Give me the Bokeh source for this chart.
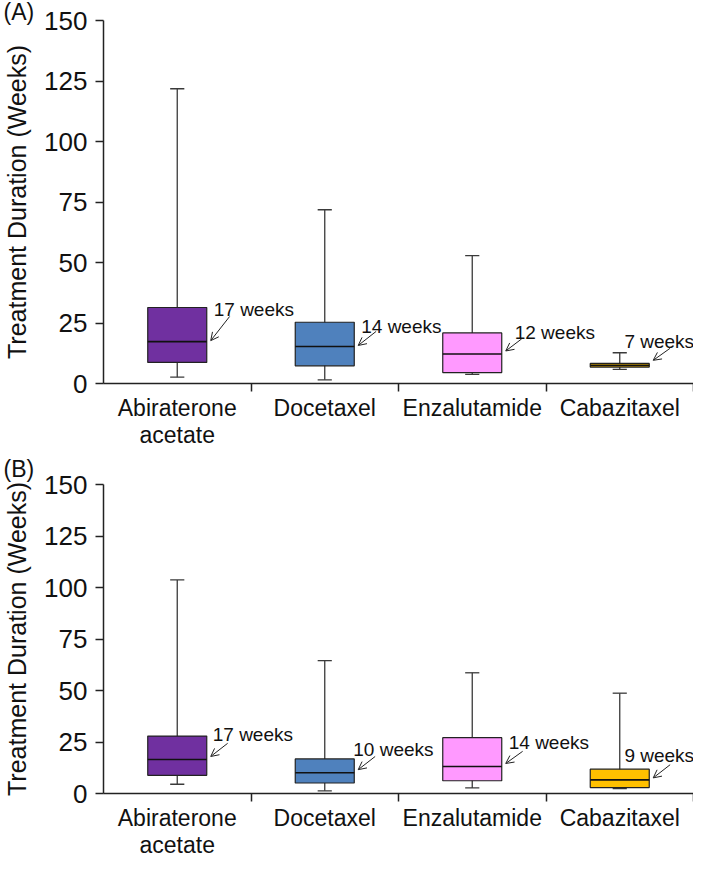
from bokeh.plotting import figure
from bokeh.models import Range1d, FixedTicker, Label, Arrow, OpenHead, ColumnDataSource
from bokeh.layouts import column
from bokeh.embed import file_html
from bokeh.resources import INLINE

# ---------------- data ----------------
drugs = ["Abiraterone\nacetate", "Docetaxel", "Enzalutamide", "Cabazitaxel"]
y_ticks = [0, 25, 50, 75, 100, 125, 150]

# Panel (A)
a_low = [2.6, 1.5, 3.8, 5.8]
a_q1 = [8.7, 7.3, 4.5, 6.8]
a_med = [17.3, 15.3, 12.2, 7.5]
a_q3 = [31.4, 25.3, 20.9, 8.3]
a_high = [121.8, 71.8, 52.8, 12.7]
a_labels = ["17 weeks", "14 weeks", "12 weeks", "7 weeks"]

# Panel (B)
b_low = [4.5, 1.3, 2.7, 2.4]
b_q1 = [8.8, 5.1, 6.2, 2.9]
b_med = [16.5, 10.1, 13.1, 6.6]
b_q3 = [27.9, 16.8, 27.1, 11.8]
b_high = [103.7, 64.5, 58.6, 48.7]
b_labels = ["17 weeks", "10 weeks", "14 weeks", "9 weeks"]

y_title = "Treatment Duration (Weeks)"

# ---------------- styles / layout ----------------
colors = ["#7030A0", "#4F81BD", "#FF99FF", "#FFC000"]
FONT = "Liberation Sans"
W = 693
BORDER_L = 100
BORDER_R = 0
MIN_B = 60        # requested minimum bottom border
AXIS_B = 75       # space the category axis actually takes
FRAME_W = W - BORDER_L - BORDER_R

# annotation offsets in pixels: arrow tail relative to tip (dx, up), text relative to tail (dx, up)
a_tail = [(19, 24), (18, 14), (16, 12), (17, 12)]
a_text = [(-16, 7), (-15, 5), (-7, 6), (-46, 7)]
a_tip_up = [1, 1, 3, 5]
b_tail = [(17, 13), (17, 13), (17, 12), (17, 13)]
b_text = [(-15, 9), (-22, 7), (-14, 9), (-46, 9)]
b_tip_up = [3, 3, 3, 2]


def make_panel(tag, low, q1, med, q3, high, labels, tails, texts, tip_up,
               height, title_h, title_standoff):
    n = len(drugs)
    frame_h = height - AXIS_B - title_h
    p = figure(width=W, height=height, title=tag,
               x_range=Range1d(0, n), y_range=Range1d(0, 150),
               output_backend="svg", toolbar_location=None,
               min_border_left=BORDER_L, min_border_right=BORDER_R,
               min_border_top=0, min_border_bottom=MIN_B)
    p.outline_line_color = None
    p.xgrid.visible = False
    p.ygrid.visible = False

    p.title.text_font = FONT
    p.title.text_font_size = "23px"
    p.title.text_font_style = "normal"
    p.title.text_color = "#111111"
    p.title.align = "left"
    p.title.offset = -BORDER_L
    p.title.standoff = title_standoff

    px_x = FRAME_W / n
    px_y = frame_h / 150.0

    centers = [i + 0.5 for i in range(n)]
    left = [c - 0.2 for c in centers]
    right = [c + 0.2 for c in centers]
    cap_l = [c - 0.048 for c in centers]
    cap_r = [c + 0.048 for c in centers]

    src = ColumnDataSource(dict(c=centers, left=left, right=right, cap_l=cap_l, cap_r=cap_r,
                                low=low, q1=q1, med=med, q3=q3, high=high, color=colors))

    wc = "#3a3a3a"
    p.segment(x0="c", y0="low", x1="c", y1="high", source=src, line_color=wc, line_width=1.3)
    p.segment(x0="cap_l", y0="high", x1="cap_r", y1="high", source=src, line_color=wc, line_width=1.3)
    p.segment(x0="cap_l", y0="low", x1="cap_r", y1="low", source=src, line_color=wc, line_width=1.3)
    p.quad(left="left", right="right", bottom="q1", top="q3", source=src,
           fill_color="color", line_color="#222222", line_width=1.2)
    p.segment(x0="left", y0="med", x1="right", y1="med", source=src, line_color="#111111", line_width=1.6)

    for i in range(n):
        tip_x = right[i] + 4 / px_x
        tip_y = med[i] + tip_up[i] / px_y
        tail_x = tip_x + tails[i][0] / px_x
        tail_y = tip_y + tails[i][1] / px_y
        p.add_layout(Arrow(end=OpenHead(size=8, line_width=1, line_color="#222222"),
                           x_start=tail_x, y_start=tail_y, x_end=tip_x, y_end=tip_y,
                           line_width=1, line_color="#222222"))
        p.add_layout(Label(x=tail_x + texts[i][0] / px_x, y=tail_y + texts[i][1] / px_y,
                           text=labels[i], text_font=FONT, text_font_size="19px",
                           text_color="#111111", text_align="left", text_baseline="alphabetic"))

    xa = p.xaxis[0]
    xa.ticker = FixedTicker(ticks=centers, minor_ticks=[1, 2, 3, 4])
    xa.major_label_overrides = {c: d for c, d in zip(centers, drugs)}
    xa.major_tick_out = 0
    xa.major_tick_in = 0
    xa.minor_tick_out = 8
    xa.minor_tick_in = 0
    xa.minor_tick_line_color = "#222222"
    xa.minor_tick_line_width = 1.5
    xa.axis_line_color = "#222222"
    xa.axis_line_width = 1.5
    xa.major_label_text_font = FONT
    xa.major_label_text_font_size = "23px"
    xa.major_label_text_color = "#111111"
    xa.major_label_text_line_height = 1.05
    xa.major_label_standoff = 3

    ya = p.yaxis[0]
    ya.ticker = FixedTicker(ticks=y_ticks)
    ya.major_tick_out = 8
    ya.major_tick_in = 0
    ya.minor_tick_line_color = None
    ya.major_tick_line_color = "#222222"
    ya.major_tick_line_width = 1.5
    ya.axis_line_color = "#222222"
    ya.axis_line_width = 1.5
    ya.major_label_text_font = FONT
    ya.major_label_text_font_size = "26px"
    ya.major_label_text_color = "#111111"
    ya.major_label_standoff = 8
    ya.axis_label = y_title
    ya.axis_label_text_font = FONT
    ya.axis_label_text_font_size = "25px"
    ya.axis_label_text_font_style = "normal"
    ya.axis_label_text_color = "#111111"
    ya.axis_label_standoff = 10
    return p


pa = make_panel("(A)", a_low, a_q1, a_med, a_q3, a_high, a_labels, a_tail, a_text, a_tip_up,
                height=450, title_h=14, title_standoff=-8)
pb = make_panel("(B)", b_low, b_q1, b_med, b_q3, b_high, b_labels, b_tail, b_text, b_tip_up,
                height=410, title_h=30, title_standoff=6)

layout = column(pa, pb)
open("out.html", "w").write(file_html(layout, INLINE))
